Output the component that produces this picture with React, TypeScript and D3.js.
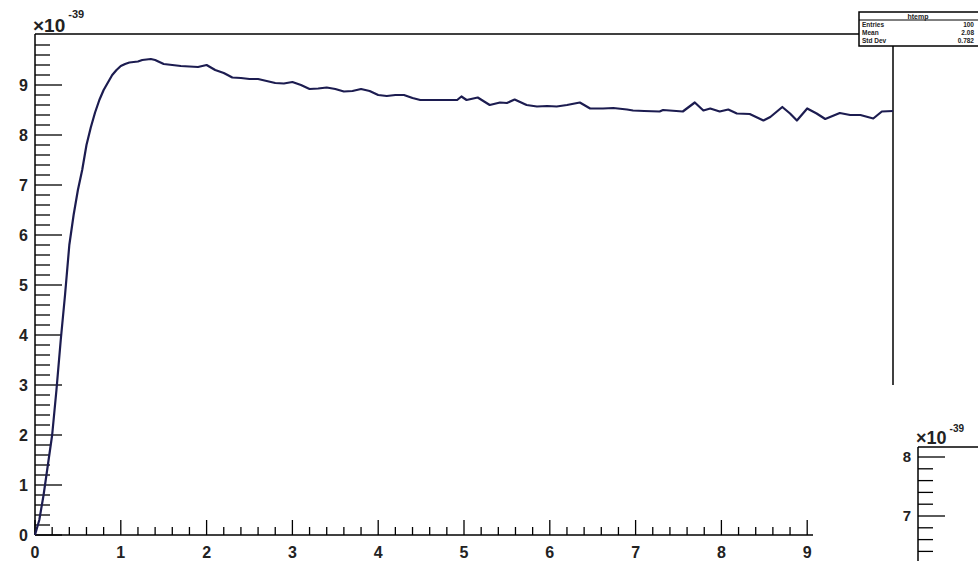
import React from "react";
import * as d3 from "d3";

// Histogram curve (units of 1e-39)
const curveX = [
  0.0, 0.05, 0.1, 0.15, 0.2, 0.25, 0.3, 0.35, 0.4, 0.45, 0.5, 0.55, 0.6, 0.65, 0.7, 0.75, 0.8, 0.85, 0.9, 0.95,
  1.0, 1.05, 1.1, 1.15, 1.2, 1.25, 1.3, 1.35, 1.4, 1.45, 1.5, 1.6, 1.7, 1.8, 1.9, 2.0, 2.1, 2.2, 2.3, 2.4,
  2.5, 2.6, 2.7, 2.8, 2.9, 3.0, 3.1, 3.2, 3.3, 3.4, 3.5, 3.6, 3.7, 3.8, 3.9, 4.0, 4.1, 4.2, 4.3, 4.4,
  4.49, 4.6, 4.75, 4.92, 4.97, 5.03, 5.16, 5.3, 5.42, 5.5, 5.59, 5.73, 5.85, 5.97, 6.08, 6.2, 6.35, 6.47, 6.62, 6.74,
  6.9, 6.97, 7.1, 7.28, 7.32, 7.55, 7.69, 7.79, 7.87, 7.98, 8.08, 8.18, 8.33, 8.49, 8.57, 8.71, 8.8, 8.88, 9.0, 9.11,
  9.21, 9.38, 9.5, 9.62, 9.77, 9.87, 10.0,
];
const curveY = [
  0.0, 0.3, 0.8, 1.4, 2.0, 2.9, 3.9, 4.8, 5.8, 6.4, 6.9, 7.3, 7.8, 8.15, 8.45, 8.7, 8.9, 9.05, 9.2, 9.3,
  9.38, 9.42, 9.45, 9.46, 9.47, 9.5, 9.51, 9.52, 9.5, 9.46, 9.42, 9.4, 9.38, 9.37, 9.36, 9.4, 9.3, 9.24, 9.15, 9.14,
  9.12, 9.12, 9.08, 9.04, 9.03, 9.06, 9.0, 8.92, 8.93, 8.95, 8.92, 8.87, 8.88, 8.92, 8.88, 8.8, 8.78, 8.8, 8.8, 8.74,
  8.7, 8.7, 8.7, 8.7, 8.77, 8.7, 8.75, 8.6, 8.65, 8.64, 8.71, 8.6, 8.57, 8.58, 8.57, 8.6, 8.65, 8.53, 8.53, 8.54,
  8.51, 8.49, 8.48, 8.47, 8.5, 8.47, 8.65, 8.49, 8.53, 8.47, 8.51, 8.43, 8.42, 8.29, 8.36, 8.56, 8.43, 8.29, 8.53, 8.43,
  8.32, 8.44, 8.4, 8.4, 8.33, 8.47, 8.48,
];

const xMajorTicks = [0, 1, 2, 3, 4, 5, 6, 7, 8, 9];
const yMajorTicks = [0, 1, 2, 3, 4, 5, 6, 7, 8, 9];
const insetMajorTicks = [7, 8];
const statsRows = [
  ["Entries", "100"],
  ["Mean", "2.08"],
  ["Std Dev", "0.782"],
];
const statsTitle = "htemp";

const FONT = "'Liberation Sans', Arial, Helvetica, sans-serif";

export default function App() {
  const W = 978;
  const H = 561;
  const x = d3.scaleLinear().domain([0, 10]).range([35, 893]);
  const y = d3.scaleLinear().domain([0, 10]).range([535, 35]);

  const pts: [number, number][] = curveX.map((v, i) => [v, curveY[i]]);
  const line = d3
    .line<[number, number]>()
    .x((d) => x(d[0]))
    .y((d) => y(d[1]))
    .curve(d3.curveLinear);

  const yMinor = d3.range(0, 50).map((i) => i * 0.2).filter((v) => Math.abs(v - Math.round(v)) > 1e-6);
  const xMinor = d3.range(0, 46).map((i) => i * 0.2).filter((v) => Math.abs(v - Math.round(v)) > 1e-6 && v < 9.05);

  // Inset pad (bottom right)
  const yi = d3.scaleLinear().domain([7, 8]).range([516, 457]);
  const insetMinor = d3.range(0, 20).map((i) => 6 + i * 0.2).filter((v) => Math.abs(v - Math.round(v)) > 1e-6 && yi(v) > 447 && yi(v) < 565);

  const axisLeft = x(0);
  const axisBottom = y(0);

  return (
    <svg
      width={W}
      height={H}
      style={{ position: "absolute", left: 0, top: 0, background: "#fff" }}
      fontFamily={FONT}
    >
      <rect x={0} y={0} width={W} height={H} fill="#fff" />
      {/* frame lines */}
      <line x1={axisLeft} y1={34} x2={859} y2={34} stroke="#000" strokeWidth={1.5} />
      <line x1={893} y1={46} x2={893} y2={385} stroke="#000" strokeWidth={1.5} />
      {/* y axis */}
      <line x1={axisLeft} y1={34} x2={axisLeft} y2={axisBottom} stroke="#000" strokeWidth={1.5} />
      {yMajorTicks.map((t) => (
        <g key={"ym" + t}>
          <line x1={axisLeft} x2={axisLeft + 27} y1={y(t)} y2={y(t)} stroke="#000" strokeWidth={1.3} />
          <text x={28} y={y(t)} dy="0.36em" textAnchor="end" fontSize={16} fontWeight="bold" fill="#222">
            {t}
          </text>
        </g>
      ))}
      {yMinor.map((t) => (
        <line key={"yn" + t} x1={axisLeft} x2={axisLeft + 15} y1={y(t)} y2={y(t)} stroke="#000" strokeWidth={1.3} />
      ))}
      <text x={33} y={32} fontSize={19} fontWeight="bold" fill="#222">
        ×10
        <tspan fontSize={11} dy={-14} dx={3}>-39</tspan>
      </text>
      {/* x axis */}
      <line x1={axisLeft} y1={axisBottom} x2={813} y2={axisBottom} stroke="#000" strokeWidth={1.5} />
      {xMajorTicks.map((t) => (
        <g key={"xm" + t}>
          <line x1={x(t)} x2={x(t)} y1={axisBottom} y2={axisBottom - 15} stroke="#000" strokeWidth={1.3} />
          <text x={x(t)} y={558} textAnchor="middle" fontSize={16} fontWeight="bold" fill="#222">
            {t}
          </text>
        </g>
      ))}
      {xMinor.map((t) => (
        <line key={"xn" + t} x1={x(t)} x2={x(t)} y1={axisBottom} y2={axisBottom - 8} stroke="#000" strokeWidth={1.3} />
      ))}
      {/* curve */}
      <path d={line(pts) || ""} fill="none" stroke="#1c1c50" strokeWidth={2.2} strokeLinejoin="round" />
      {/* stats box */}
      <rect x={859} y={12} width={125} height={34} fill="#fff" stroke="#000" strokeWidth={1.5} />
      <line x1={859} y1={20} x2={984} y2={20} stroke="#000" strokeWidth={1} />
      <text x={918} y={18.5} textAnchor="middle" fontSize={7} fontWeight="bold" fill="#222">
        {statsTitle}
      </text>
      {statsRows.map((r, i) => (
        <g key={r[0]}>
          <text x={862} y={27 + i * 8} fontSize={6.5} fontWeight="bold" fill="#222">
            {r[0]}
          </text>
          <text x={974} y={27 + i * 8} textAnchor="end" fontSize={6.5} fontWeight="bold" fill="#222">
            {r[1]}
          </text>
        </g>
      ))}
      {/* inset pad */}
      <line x1={918} y1={447} x2={978} y2={447} stroke="#000" strokeWidth={1.5} />
      <line x1={918} y1={447} x2={918} y2={561} stroke="#000" strokeWidth={1.5} />
      {insetMajorTicks.map((t) => (
        <g key={"im" + t}>
          <line x1={918} x2={945} y1={yi(t)} y2={yi(t)} stroke="#000" strokeWidth={1.3} />
          <text x={911} y={yi(t)} dy="0.36em" textAnchor="end" fontSize={15} fontWeight="bold" fill="#222">
            {t}
          </text>
        </g>
      ))}
      {insetMinor.map((t) => (
        <line key={"in" + t} x1={918} x2={933} y1={yi(t)} y2={yi(t)} stroke="#000" strokeWidth={1.3} />
      ))}
      <text x={916} y={444} fontSize={18} fontWeight="bold" fill="#222">
        ×10
        <tspan fontSize={10} dy={-12} dx={3}>-39</tspan>
      </text>
    </svg>
  );
}
